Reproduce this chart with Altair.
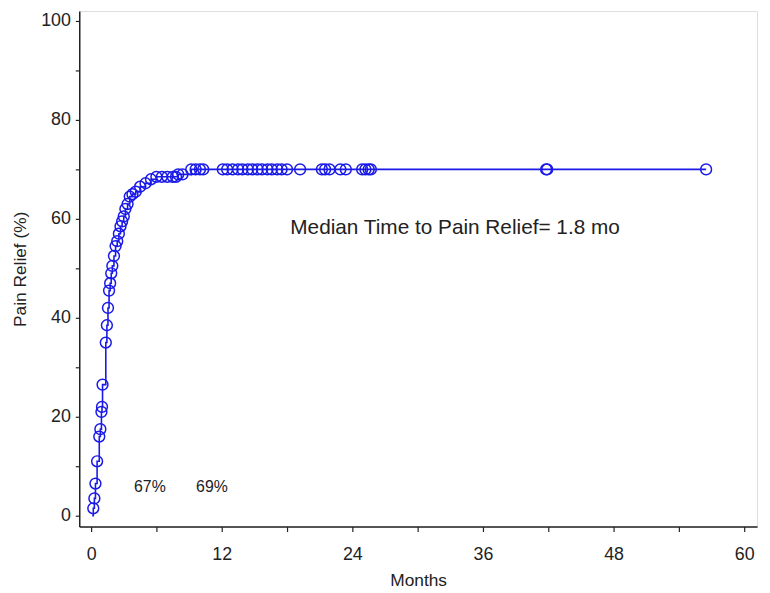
import altair as alt
import pandas as pd

# Step curve (time in months, cumulative pain relief %)
step_times = [0.1, 0.2, 0.3, 0.4, 0.55, 0.75, 0.85, 0.95, 1.0, 1.05, 1.35, 1.45, 1.55, 1.65,
              1.75, 1.85, 1.95, 2.1, 2.25, 2.4, 2.55, 2.7, 2.85, 3.0, 3.15, 3.35, 3.55, 3.8,
              4.1, 4.5, 5.0, 5.5, 6.0, 8.0, 9.2, 56.5]
step_values = [0, 1.5, 3.5, 6.5, 11, 16, 17.5, 21, 22, 26.5, 35, 38.5, 42, 45.5,
               47, 49, 50.5, 52.5, 54.5, 55.5, 57, 58.5, 59.5, 60.5, 62, 63, 64.5, 65,
               65.5, 66.5, 67.2, 68, 68.5, 69, 70, 70]

# Circle markers
mark_times = [0.2, 0.3, 0.4, 0.55, 0.75, 0.85, 0.95, 1.0, 1.05, 1.35, 1.45, 1.55, 1.65,
              1.75, 1.85, 1.95, 2.1, 2.25, 2.4, 2.55, 2.7, 2.85, 3.0, 3.15, 3.35, 3.55, 3.8,
              4.1, 4.5, 5.0, 5.5, 6.0, 6.5, 7.0, 7.5, 7.8, 8.0, 8.4,
              9.2, 9.6, 10.0, 10.3, 12.1, 12.5, 13.0, 13.5, 13.9, 14.4, 14.8, 15.3, 15.7,
              16.2, 16.6, 17.1, 17.5, 18.0, 19.2, 21.2, 21.5, 21.9, 22.9, 23.4,
              24.9, 25.2, 25.5, 25.7, 41.8, 41.9, 56.5]
mark_values = [1.5, 3.5, 6.5, 11, 16, 17.5, 21, 22, 26.5, 35, 38.5, 42, 45.5,
               47, 49, 50.5, 52.5, 54.5, 55.5, 57, 58.5, 59.5, 60.5, 62, 63, 64.5, 65,
               65.5, 66.5, 67.2, 68, 68.5, 68.5, 68.5, 68.5, 68.5, 69, 69,
               70, 70, 70, 70, 70, 70, 70, 70, 70, 70, 70, 70, 70,
               70, 70, 70, 70, 70, 70, 70, 70, 70, 70, 70,
               70, 70, 70, 70, 70, 70, 70]

# Annotations
note_texts = ["Median Time to Pain Relief= 1.8 mo"]
note_x = [18.3]
note_y = [58.2]
pct_texts = ["67%", "69%"]
pct_x = [5.4, 11.1]
pct_y = [5.8, 5.8]

x_ticks = [0, 6, 12, 18, 24, 30, 36, 42, 48, 54, 60]
y_ticks = [0, 10, 20, 30, 40, 50, 60, 70, 80, 90, 100]

BLUE = "#1a1ae8"
FONT = "Liberation Sans"

steps = pd.DataFrame({"t": step_times, "v": step_values})
marks = pd.DataFrame({"t": mark_times, "v": mark_values})
notes = pd.DataFrame({"label": note_texts, "t": note_x, "v": note_y})
pcts = pd.DataFrame({"label": pct_texts, "t": pct_x, "v": pct_y})

xscale = alt.Scale(domain=[-1.09, 61.18], nice=False, zero=False)
yscale = alt.Scale(domain=[-2.2, 102], nice=False, zero=False)

xaxis = alt.Axis(values=x_ticks, labelExpr="datum.value % 12 == 0 ? datum.label : ''",
                 title="Months", grid=False, tickSize=5, labelPadding=14, titlePadding=9,
                 domainColor="#222", tickColor="#222", labelColor="#222", titleColor="#222",
                 labelFontSize=18, titleFontSize=17.5, labelFont=FONT, titleFont=FONT,
                 titleFontWeight="normal", domainWidth=1.5, tickWidth=1.2)
yaxis = alt.Axis(values=y_ticks, labelExpr="datum.value % 20 == 0 ? datum.label : ''",
                 title="Pain Relief (%)", grid=False, tickSize=4, labelPadding=5, titlePadding=11,
                 domainColor="#222", tickColor="#222", labelColor="#222", titleColor="#222",
                 labelFontSize=18, titleFontSize=17.5, labelFont=FONT, titleFont=FONT,
                 titleFontWeight="normal", domainWidth=1.5, tickWidth=1.2)

line = alt.Chart(steps).mark_line(interpolate="step-after", color=BLUE, strokeWidth=1.6).encode(
    x=alt.X("t:Q", scale=xscale, axis=xaxis),
    y=alt.Y("v:Q", scale=yscale, axis=yaxis),
)
pts = alt.Chart(marks).mark_point(shape="circle", filled=False, color=BLUE, size=120,
                                  strokeWidth=1.5, opacity=1).encode(
    x=alt.X("t:Q", scale=xscale),
    y=alt.Y("v:Q", scale=yscale),
)
note = alt.Chart(notes).mark_text(align="left", baseline="middle", fontSize=21, font=FONT,
                                  color="#222").encode(
    x=alt.X("t:Q", scale=xscale), y=alt.Y("v:Q", scale=yscale), text="label:N")
pct = alt.Chart(pcts).mark_text(align="center", baseline="middle", fontSize=16, font=FONT,
                                color="#222").encode(
    x=alt.X("t:Q", scale=xscale), y=alt.Y("v:Q", scale=yscale), text="label:N")

chart = alt.layer(line, pts, note, pct).properties(
    width=685, height=521,
    autosize=alt.AutoSizeParams(type="none"),
    padding={"left": 72, "top": 0, "right": 5, "bottom": 64},
).configure_view(stroke=None).configure(background="white")

chart.save("out.html", embed_options={"renderer": "svg", "actions": False})
